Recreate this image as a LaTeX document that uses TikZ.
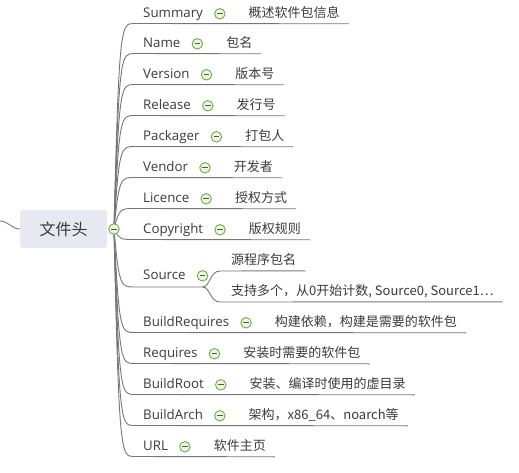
\documentclass[tikz,border=0pt]{standalone}
\usepackage{fontspec}
\setmainfont{Open Sans}
\newfontfamily\cjk{Noto Sans CJK SC}
\usepackage{tikz}
\usetikzlibrary{positioning,calc}
\definecolor{txtgray}{HTML}{3A3A3A}
\definecolor{linegray}{HTML}{767676}
\definecolor{rootfill}{HTML}{E8E8F3}
\definecolor{knobgreen}{HTML}{6DAF3C}
\definecolor{knobfill}{HTML}{EEF3EA}

\begin{document}
\begin{tikzpicture}[x=1pt,y=-1pt,
    root/.style={rectangle,rounded corners=3pt,fill=rootfill,minimum width=87pt,minimum height=38pt,
      text=txtgray,font=\cjk\fontsize{16}{18}\selectfont},
    branch/.style={anchor=west,inner sep=0pt,text height=10pt,text depth=3pt,text=txtgray,
      font=\fontsize{13.3}{15}\selectfont},
    leaf/.style={anchor=west,inner sep=0pt,text height=10pt,text depth=3pt,text=txtgray,
      font=\cjk\fontsize{13}{15}\selectfont},
    knob/.style={circle,draw=knobgreen,fill=knobfill,line width=0.9pt,minimum size=10.5pt,inner sep=0pt,
      path picture={\draw[knobgreen!60!black,line width=1pt]
        ([xshift=-2.8pt]path picture bounding box.center) -- ([xshift=2.8pt]path picture bounding box.center);}},
    link/.style={draw=linegray,line width=0.9pt}]
  \useasboundingbox (0,0) rectangle (519,473);

  % root topic
  \node[root] (root) at (63.5,229) {文件头};
  \coordinate (in) at (0,221);
  \draw[link] (in) .. controls (8,221) and (12,229) .. (root.west);
  \coordinate (root-k) at (114,229);

  % branches with one note each
  \foreach \nm/\lab/\desc/\yy in {sum/Summary/概述软件包信息/13,name/Name/包名/43,ver/Version/版本号/74,
      rel/Release/发行号/105,pkg/Packager/打包人/136,vend/Vendor/开发者/167,lic/Licence/授权方式/198,
      copy/Copyright/版权规则/229,breq/BuildRequires/构建依赖，构建是需要的软件包/322,
      req/Requires/安装时需要的软件包/353,broot/BuildRoot/安装、编译时使用的虚目录/384,
      barch/BuildArch/架构，x86\_64、noarch等/415,url/URL/软件主页/446} {
    \node[branch] (\nm) at (143,\yy+0.8) {\lab};
    \node[knob, right=11pt of \nm] (\nm-k) {};
    \node[leaf, right=23pt of \nm-k] (\nm-d) {\desc};
    \coordinate (\nm-e) at ($(\nm-d.east)+(9,10)$);
    \draw[link] (root-k) .. controls (119,\yy+10.5) and (121,\yy+10.5) .. (134,\yy+10.5) -- (\nm-e);
  }

  % Source has two notes
  \node[branch] (src) at (143,275.8) {Source};
  \node[knob, right=11pt of src] (src-k) {};
  \coordinate (src-j) at (src-k |- 0,287);
  \draw[link] (root-k) .. controls (119,287) and (121,287) .. (134,287) -- (src-j);
  \node[leaf] (src-a) at (231,260.8) {源程序包名};
  \node[leaf] (src-b) at (231,291.8) {支持多个，从0开始计数, Source0, Source1…};
  \coordinate (src-ae) at ($(src-a.east)+(9,10)$);
  \coordinate (src-be) at ($(src-b.east)+(9,10)$);
  \draw[link] (src-j) .. controls (210,287) and (210,271) .. (220,271) -- (src-ae);
  \draw[link] (src-j) .. controls (210,287) and (210,302) .. (220,302) -- (src-be);

  \node[knob] at (root-k) {};
\end{tikzpicture}
\end{document}
